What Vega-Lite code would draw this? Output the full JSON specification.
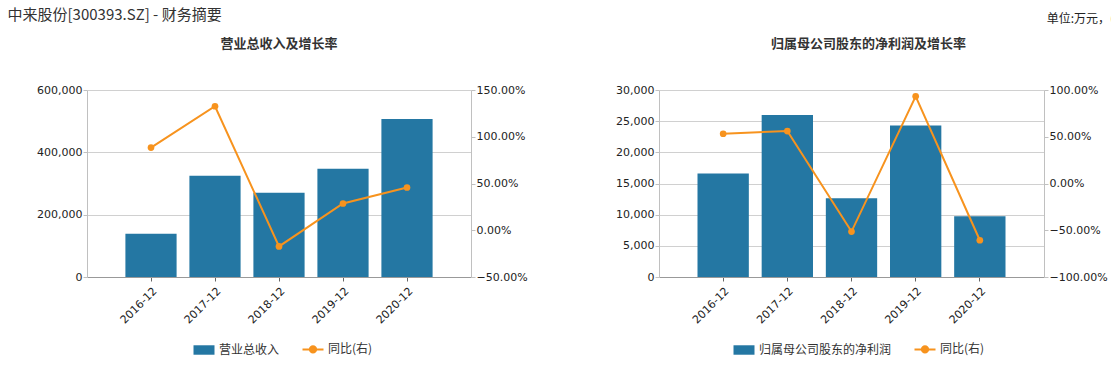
{
  "$schema": "https://vega.github.io/schema/vega-lite/v6.json",
  "background": "white",
  "padding": {"left": 7, "top": 8, "right": 0, "bottom": 0},
  "datasets": {
    "rev": [
      {"year": "2016-12", "v": 138800, "r": 0.884},
      {"year": "2017-12", "v": 324600, "r": 1.326},
      {"year": "2018-12", "v": 270100, "r": -0.173},
      {"year": "2019-12", "v": 347000, "r": 0.286},
      {"year": "2020-12", "v": 507100, "r": 0.457}
    ],
    "np": [
      {"year": "2016-12", "v": 16610, "r": 0.532},
      {"year": "2017-12", "v": 25980, "r": 0.561},
      {"year": "2018-12", "v": 12640, "r": -0.514},
      {"year": "2019-12", "v": 24320, "r": 0.932},
      {"year": "2020-12", "v": 9750, "r": -0.607}
    ]
  },
  "title": {"text": "中来股份[300393.SZ] - 财务摘要", "anchor": "start", "fontSize": 15, "font": "Noto Sans CJK SC", "fontWeight": "normal", "color": "#333333", "dx": -29, "dy": 10, "offset": 0},
  "vconcat": [
    {
      "title": {"text": "单位:万元，(", "anchor": "end", "fontSize": 12, "font": "Noto Sans CJK SC", "fontWeight": "normal", "color": "#222222", "offset": 12, "dx": 7},
      "spacing": 87,
      "resolve": {"scale": {"color": "independent"}, "legend": {"color": "independent"}},
      "hconcat": [
        {
          "width": 384,
          "height": 187,
          "title": {"text": "营业总收入及增长率", "fontSize": 13, "fontWeight": "bold", "font": "Noto Sans CJK SC", "color": "#333333", "offset": 33, "anchor": "middle"},
          "data": {"name": "rev"},
          "encoding": {
            "x": {"field": "year", "type": "ordinal", "title": null, "scale": {"paddingInner": 0.2, "paddingOuter": 0.6},
                  "axis": {"labelAngle": -45, "tickColor": "#666666", "domainColor": "#999999", "labelPadding": 4, "tickSize": 4, "grid": false}}
          },
          "layer": [
            {
              "mark": {"type": "bar"},
              "encoding": {
                "y": {"field": "v", "type": "quantitative", "title": null, "scale": {"domain": [0, 600000]},
                      "axis": {"orient": "left", "values": [0, 200000, 400000, 600000], "format": ",.0f", "grid": true}},
                "color": {"datum": "营业总收入", "type": "nominal", "scale": {"domain": ["营业总收入", "同比(右)"], "range": ["#2477a3", "#f7931e"]},
                  "legend": {"title": " ", "titleOrient": "left", "titlePadding": 12, "orient": "bottom", "direction": "horizontal", "offset": 17, "symbolSize": 441, "labelFontSize": 12, "labelFont": "Noto Sans CJK SC", "labelColor": "#333333", "columnPadding": 18, "labelOffset": 9,
                    "encode": {"symbols": {"update": {
                      "shape": {"signal": "datum.value === '同比(右)' ? 'M-1,0L1,0M-0.3,0A0.3,0.3,0,1,1,0.3,0A0.3,0.3,0,1,1,-0.3,0Z' : 'M-1,-0.45L1,-0.45L1,0.45L-1,0.45Z'"},
                      "fill": {"signal": "datum.value === '同比(右)' ? '#f7931e' : '#2477a3'"},
                      "stroke": {"signal": "datum.value === '同比(右)' ? '#f7931e' : '#2477a3'"},
                      "strokeWidth": {"signal": "datum.value === '同比(右)' ? 2 : 0"},
                      "opacity": {"value": 1}
                    }}}}}
              }
            },
            {
              "mark": {"type": "line", "strokeWidth": 2, "point": {"filled": true, "size": 45}},
              "encoding": {
                "y": {"field": "r", "type": "quantitative", "title": null, "scale": {"domain": [-0.5, 1.5]},
                      "axis": {"orient": "right", "values": [-0.5, 0, 0.5, 1, 1.5], "format": ".2%", "grid": false}},
                "color": {"datum": "同比(右)", "type": "nominal"}
              }
            }
          ],
          "resolve": {"scale": {"y": "independent"}}
        },
        {
          "width": 385,
          "height": 187,
          "title": {"text": "归属母公司股东的净利润及增长率", "fontSize": 13, "fontWeight": "bold", "font": "Noto Sans CJK SC", "color": "#333333", "offset": 33, "anchor": "middle", "dx": 17},
          "data": {"name": "np"},
          "encoding": {
            "x": {"field": "year", "type": "ordinal", "title": null, "scale": {"paddingInner": 0.2, "paddingOuter": 0.6},
                  "axis": {"labelAngle": -45, "tickColor": "#666666", "domainColor": "#999999", "labelPadding": 4, "tickSize": 4, "grid": false}}
          },
          "layer": [
            {
              "mark": {"type": "bar"},
              "encoding": {
                "y": {"field": "v", "type": "quantitative", "title": null, "scale": {"domain": [0, 30000]},
                      "axis": {"orient": "left", "values": [0, 5000, 10000, 15000, 20000, 25000, 30000], "format": ",.0f", "grid": true}},
                "color": {"datum": "归属母公司股东的净利润", "type": "nominal", "scale": {"domain": ["归属母公司股东的净利润", "同比(右)"], "range": ["#2477a3", "#f7931e"]},
                  "legend": {"title": " ", "titleOrient": "left", "titlePadding": 20, "orient": "bottom", "direction": "horizontal", "offset": 17, "symbolSize": 441, "labelFontSize": 12, "labelFont": "Noto Sans CJK SC", "labelColor": "#333333", "columnPadding": 18, "labelOffset": 9,
                    "encode": {"symbols": {"update": {
                      "shape": {"signal": "datum.value === '同比(右)' ? 'M-1,0L1,0M-0.3,0A0.3,0.3,0,1,1,0.3,0A0.3,0.3,0,1,1,-0.3,0Z' : 'M-1,-0.45L1,-0.45L1,0.45L-1,0.45Z'"},
                      "fill": {"signal": "datum.value === '同比(右)' ? '#f7931e' : '#2477a3'"},
                      "stroke": {"signal": "datum.value === '同比(右)' ? '#f7931e' : '#2477a3'"},
                      "strokeWidth": {"signal": "datum.value === '同比(右)' ? 2 : 0"},
                      "opacity": {"value": 1}
                    }}}}}
              }
            },
            {
              "mark": {"type": "line", "strokeWidth": 2, "point": {"filled": true, "size": 45}},
              "encoding": {
                "y": {"field": "r", "type": "quantitative", "title": null, "scale": {"domain": [-1, 1]},
                      "axis": {"orient": "right", "values": [-1, -0.5, 0, 0.5, 1], "format": ".2%", "grid": false}},
                "color": {"datum": "同比(右)", "type": "nominal"}
              }
            }
          ],
          "resolve": {"scale": {"y": "independent"}}
        }
      ]
    }
  ],
  "config": {
    "view": {"stroke": null},
    "font": "DejaVu Sans",
    "axis": {"labelFont": "DejaVu Sans", "labelFontSize": 11, "labelColor": "#222222", "domainColor": "#c0c0c0", "tickColor": "#c0c0c0", "tickSize": 4, "labelPadding": 1, "gridColor": "#d0d0d0"},
    "legend": {"layout": {"bottom": {"anchor": "middle"}}}
  }
}
